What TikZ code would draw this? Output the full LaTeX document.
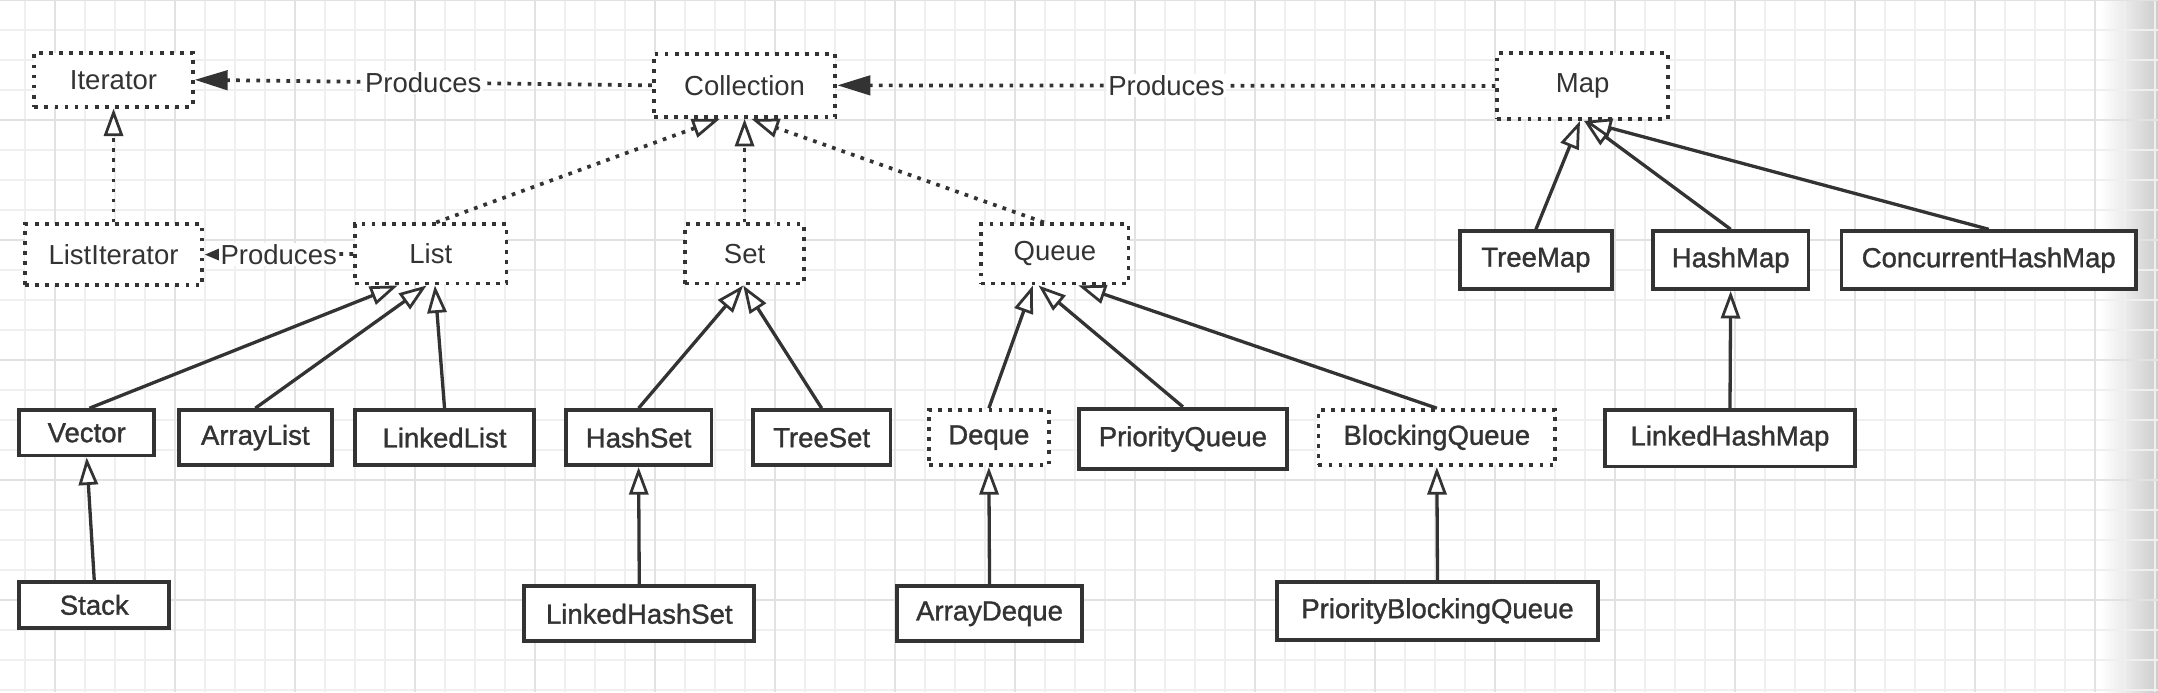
\documentclass[tikz,border=0pt]{standalone}
\usepackage{fontspec}
\setmainfont{Liberation Sans}
\newfontfamily\clsfont{Liberation Sans}[FakeBold=1.2]
\usetikzlibrary{arrows.meta}
\definecolor{ink}{HTML}{333333}
\definecolor{gridminor}{HTML}{EFEFEF}
\definecolor{gridmajor}{HTML}{E2E2E2}

\begin{document}
\begin{tikzpicture}[x=1pt,y=-1pt,
	iface/.style={draw=ink,fill=white,line width=2.8pt,dash pattern=on 2.8pt off 4.5pt,text=ink,font=\fontsize{20}{24}\selectfont,inner sep=0pt},
	cls/.style={draw=ink,fill=white,line width=2.8pt,text=ink,font=\clsfont\fontsize{20}{24}\selectfont,inner sep=0pt},
	impl/.style={draw=ink,line width=2.7pt,dash pattern=on 2.7pt off 4.6pt,-{Triangle[fill=white,length=20pt,width=14pt,line width=2pt]}},
	ext/.style={draw=ink,line width=2.4pt,-{Triangle[fill=white,length=20pt,width=14pt,line width=2pt]}},
	prod/.style={draw=ink,line width=2.7pt,dash pattern=on 2.7pt off 4.6pt,-{Triangle[length=24pt,width=14pt]}},
	lbl/.style={fill=white,text=ink,font=\fontsize{20}{24}\selectfont,inner sep=1pt}]
	\useasboundingbox (0,0) rectangle (1568,503);
	% paper and grid
	\shade[left color=white,right color=black!10] (1526,0) rectangle (1548,503);
	\shade[left color=black!10,right color=black!20] (1548,0) rectangle (1568,503);
	\foreach \i in {0,...,71} \draw[gridminor,line width=1.2pt] ({18.17+21.8*\i},0) -- ++(0,503);
	\foreach \j in {0,...,23} \draw[gridminor,line width=1.2pt] (0,{21.8*\j}) -- ++(1568,0);
	\foreach \i in {1,5,...,69} \draw[gridmajor,line width=1.2pt] ({18.17+21.8*\i},0) -- ++(0,503);
	\foreach \j in {0,4,...,20} \draw[gridmajor,line width=1.2pt] (0,{21.8*\j}) -- ++(1568,0);

	% interfaces
	\node[iface,minimum width=115pt,minimum height=39pt] (iterator) at (82.5,58) {Iterator};
	\node[iface,minimum width=132pt,minimum height=46pt] (collection) at (541,62) {Collection};
	\node[iface,minimum width=124pt,minimum height=48pt] (map) at (1150,62.5) {Map};
	\node[iface,minimum width=129pt,minimum height=44pt] (listiterator) at (82.5,185) {ListIterator};
	\node[iface,minimum width=110pt,minimum height=43pt] (list) at (313,184.5) {List};
	\node[iface,minimum width=86pt,minimum height=43pt] (set) at (541,184.5) {Set};
	\node[iface,minimum width=107pt,minimum height=43pt] (queue) at (766.5,184.5) {Queue};
	\node[iface,font=\clsfont\fontsize{20}{24}\selectfont,minimum width=87pt,minimum height=40pt] (deque) at (718.5,318) {Deque};
	\node[iface,font=\clsfont\fontsize{20}{24}\selectfont,minimum width=172pt,minimum height=40pt] (blockingqueue) at (1044,318) {BlockingQueue};

	% classes
	\node[cls,minimum width=110pt,minimum height=42pt] (treemap) at (1116,189) {TreeMap};
	\node[cls,minimum width=113pt,minimum height=42pt] (hashmap) at (1257.5,189) {HashMap};
	\node[cls,minimum width=214pt,minimum height=42pt] (chashmap) at (1445,189) {ConcurrentHashMap};
	\node[cls,minimum width=98pt,minimum height=33pt] (vector) at (63,314.5) {Vector};
	\node[cls,minimum width=111pt,minimum height=40pt] (arraylist) at (185.5,318) {ArrayList};
	\node[cls,minimum width=130pt,minimum height=40pt] (linkedlist) at (323,318) {LinkedList};
	\node[cls,minimum width=106pt,minimum height=40pt] (hashset) at (464,318) {HashSet};
	\node[cls,minimum width=100pt,minimum height=40pt] (treeset) at (597,318) {TreeSet};
	\node[cls,minimum width=151pt,minimum height=44pt] (priorityqueue) at (859.5,319) {PriorityQueue};
	\node[cls,minimum width=182pt,minimum height=41pt] (linkedhashmap) at (1257,318.5) {LinkedHashMap};
	\node[cls,minimum width=109pt,minimum height=33pt] (stack) at (68.5,439.5) {Stack};
	\node[cls,minimum width=167pt,minimum height=40pt] (linkedhashset) at (464.5,446) {LinkedHashSet};
	\node[cls,minimum width=134pt,minimum height=40pt] (arraydeque) at (719,446) {ArrayDeque};
	\node[cls,minimum width=233pt,minimum height=42pt] (pbqueue) at (1044.5,444) {PriorityBlockingQueue};

	% produces
	\draw[prod] (collection.west) -- (iterator.east) node[lbl,midway] {Produces};
	\draw[prod] (map.west) -- (collection.east) node[lbl,midway] {Produces};
	\draw[prod,-{Triangle[length=11pt,width=8pt]}] (list.west) -- (listiterator.east) node[lbl,midway] {Produces};

	% interface inheritance
	\draw[impl] (listiterator.north) -- (iterator.south);
	\draw[impl] ([xshift=4pt]list.north) -- ([xshift=-18pt]collection.south);
	\draw[impl] (set.north) -- (collection.south);
	\draw[impl] ([xshift=-8pt]queue.north) -- ([xshift=5pt]collection.south);

	% implementations
	\draw[ext] ([xshift=2pt]vector.north) -- ([xshift=-24pt]list.south);
	\draw[ext] (arraylist.north) -- ([xshift=-3pt]list.south);
	\draw[ext] (linkedlist.north) -- ([xshift=3pt]list.south);
	\draw[ext] (stack.north) -- (vector.south);
	\draw[ext] (hashset.north) -- ([xshift=-1pt]set.south);
	\draw[ext] (treeset.north) -- ([xshift=-1pt]set.south);
	\draw[ext] (linkedhashset.north) -- (hashset.south);
	\draw[ext] (deque.north) -- ([xshift=-16pt]queue.south);
	\draw[ext] (priorityqueue.north) -- ([xshift=-12pt]queue.south);
	\draw[ext] (blockingqueue.north) -- ([xshift=17pt]queue.south);
	\draw[ext] (arraydeque.north) -- (deque.south);
	\draw[ext] (pbqueue.north) -- (blockingqueue.south);
	\draw[ext] (treemap.north) -- ([xshift=-2pt]map.south);
	\draw[ext] (hashmap.north) -- ([xshift=1pt]map.south);
	\draw[ext] (chashmap.north) -- ([xshift=1pt]map.south);
	\draw[ext] (linkedhashmap.north) -- (hashmap.south);
\end{tikzpicture}
\end{document}
